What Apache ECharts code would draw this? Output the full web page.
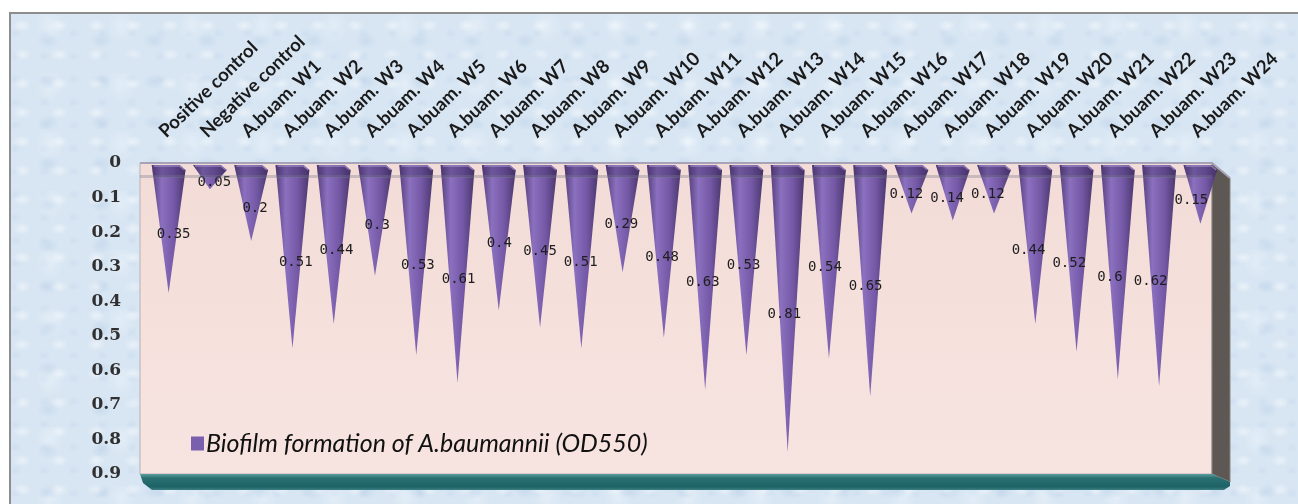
<!DOCTYPE html>
<html>
<head>
<meta charset="utf-8">
<script src="https://cdn.jsdelivr.net/npm/echarts@6/dist/echarts.min.js"></script>
<style>
  html, body { margin: 0; padding: 0; background: #fff; }
  #wrap { position: relative; width: 1298px; height: 504px; overflow: hidden; background: #fff; }
  #frame {
    position: absolute; left: 9px; top: 12px; width: 1300px; height: 500px;
    border: 2px solid #8d8d8d; box-sizing: border-box;
    background-color: #d8e6f3;
    background-image:
      radial-gradient(ellipse at 30% 40%, rgba(255,255,255,0.45) 0, rgba(255,255,255,0) 9px),
      radial-gradient(ellipse at 70% 65%, rgba(184,206,230,0.45) 0, rgba(184,206,230,0) 11px),
      radial-gradient(ellipse at 55% 20%, rgba(245,250,255,0.35) 0, rgba(245,250,255,0) 14px),
      radial-gradient(ellipse at 15% 85%, rgba(196,214,236,0.40) 0, rgba(196,214,236,0) 7px);
    background-size: 37px 29px, 53px 41px, 71px 59px, 29px 23px;
  }
  #chart { position: absolute; left: 0; top: 0; width: 1298px; height: 504px; }
</style>
</head>
<body>
<div id="wrap">
  <div id="frame"></div>
  <div id="chart"></div>
</div>
<script>
// Isolates tested for biofilm formation (crystal-violet OD550)
const categories = [
  'Positive control', 'Negative control',
  'A.buam. W1', 'A.buam. W2', 'A.buam. W3', 'A.buam. W4', 'A.buam. W5', 'A.buam. W6',
  'A.buam. W7', 'A.buam. W8', 'A.buam. W9', 'A.buam. W10', 'A.buam. W11', 'A.buam. W12',
  'A.buam. W13', 'A.buam. W14', 'A.buam. W15', 'A.buam. W16', 'A.buam. W17', 'A.buam. W18',
  'A.buam. W19', 'A.buam. W20', 'A.buam. W21', 'A.buam. W22', 'A.buam. W23', 'A.buam. W24'
];
const od550 = [
  0.35, 0.05,
  0.2, 0.51, 0.44, 0.3, 0.53, 0.61,
  0.4, 0.45, 0.51, 0.29, 0.48, 0.63,
  0.53, 0.81, 0.54, 0.65, 0.12, 0.14,
  0.12, 0.44, 0.52, 0.6, 0.62, 0.15
];
const yTicks = ['0', '0.1', '0.2', '0.3', '0.4', '0.5', '0.6', '0.7', '0.8', '0.9'];
const seriesName = 'Biofilm formation of A.baumannii (OD550)';

// plot box (the pink back wall of the 3-D chart)
const GRID = { left: 148, right: 77, top: 163, bottom: 30 };
const wall = { x0: 140, x1: 1212, y0: 163, y1: 474 };
const SIDE = 18;          // depth of the right-hand side wall
const FLOOR = 14;         // thickness of the floor slab
const CONE_DROP = 9;      // cones sit slightly in front of the wall

const coneFill = new echarts.graphic.LinearGradient(0, 0, 1, 0, [
  { offset: 0, color: '#563f7c' },
  { offset: 0.3, color: '#8b70bf' },
  { offset: 0.65, color: '#7559a7' },
  { offset: 1, color: '#4b376d' }
]);

function renderCone(params, api) {
  const i = api.value(0), v = api.value(1);
  const n = categories.length;
  const base = api.coord([i, 0]);
  const end = api.coord([i, v]);
  const mid = api.coord([i, v / 2]);
  const band = api.size([1, 0])[0];
  const half = band * 0.41;
  const cx = base[0];
  const yTop = base[1] + 2;
  const yTip = end[1] + CONE_DROP;
  const len = yTip - yTop;
  const capH = Math.min(12, len * 0.5);
  const k = 1 - capH / len;
  const bev = 6;
  const body = {
    type: 'polygon',
    shape: { points: [[cx - half, yTop], [cx + half - bev, yTop], [cx + half, yTop + 5], [cx, yTip]] },
    style: { fill: coneFill }
  };
  const cap = {
    type: 'polygon',
    shape: { points: [
      [cx - half, yTop], [cx + half - bev, yTop], [cx + half, yTop + 5],
      [cx + half * k, yTop + capH], [cx - half * k, yTop + capH]
    ] },
    style: { fill: 'rgba(58,40,92,0.35)' }
  };
  const rim = {
    type: 'polyline',
    shape: { points: [[cx - half + 2, yTop + 1], [cx + half - bev, yTop + 1], [cx + half - 1, yTop + 5]] },
    style: { stroke: 'rgba(170,150,210,0.7)', lineWidth: 1.5, fill: null }
  };
  // labels drift with the perspective of the 3-D view
  const drift = 5 - 14 * i / (n - 1);
  const label = {
    type: 'text',
    x: cx + drift,
    y: mid[1] + 11,
    z2: 20,
    style: {
      text: String(v),
      fill: '#1e1e1e',
      font: '14px "DejaVu Sans Mono"',
      align: 'center',
      verticalAlign: 'middle'
    }
  };
  return { type: 'group', children: [body, cap, rim, label] };
}

const chart = echarts.init(document.getElementById('chart'), null, { renderer: 'canvas' });

chart.setOption({
  backgroundColor: 'transparent',
  animation: false,
  grid: GRID,
  xAxis: {
    type: 'category',
    position: 'top',
    data: categories,
    axisLine: { show: false },
    axisTick: { show: false },
    axisLabel: {
      interval: 0,
      rotate: 44,
      margin: 22,
      verticalAlign: 'bottom',
      color: '#1a1a1a',
      fontFamily: 'Lato',
      fontWeight: 'bold',
      fontSize: 18.5
    }
  },
  yAxis: {
    type: 'value',
    inverse: true,
    min: 0,
    max: 0.9,
    interval: 0.1,
    axisLine: { show: false },
    axisTick: { show: false },
    splitLine: { show: false },
    axisLabel: {
      margin: 27,
      color: '#303030',
      fontFamily: 'DejaVu Serif',
      fontWeight: 'bold',
      fontSize: 17,
      formatter: (val, idx) => yTicks[idx]
    }
  },
  legend: {
    show: true,
    left: 186,
    top: 426,
    itemWidth: 13,
    itemHeight: 14,
    itemGap: 4,
    icon: 'rect',
    textStyle: { fontFamily: 'Lato', fontStyle: 'italic', fontSize: 25, color: '#111', padding: [0, 0, 0, -3] },
    data: [seriesName]
  },
  graphic: [
    // back wall
    {
      type: 'rect', z: -10,
      shape: { x: wall.x0, y: wall.y0, width: wall.x1 - wall.x0, height: wall.y1 - wall.y0 },
      style: {
        fill: new echarts.graphic.LinearGradient(0, 0, 0, 1, [
          { offset: 0, color: '#f3dcd8' }, { offset: 1, color: '#f7e4e0' }
        ]),
        stroke: '#b9b0b4', lineWidth: 1
      }
    },
    // right side wall
    {
      type: 'polygon', z: -9,
      shape: { points: [[wall.x1, wall.y0], [wall.x1 + SIDE, wall.y0 + 15], [wall.x1 + SIDE, wall.y1 + 8], [wall.x1, wall.y1]] },
      style: { fill: '#5e5855', stroke: '#8a8582', lineWidth: 1 }
    },
    // top edge of the wall
    {
      type: 'polyline', z: -8,
      shape: { points: [[wall.x0, wall.y0], [wall.x1, wall.y0], [wall.x1 + SIDE, wall.y0 + 15]] },
      style: { stroke: '#a6a2b8', lineWidth: 2, fill: null }
    },
    // floor slab
    {
      type: 'polygon', z: -8,
      shape: { points: [
        [wall.x0, wall.y1], [wall.x1, wall.y1], [wall.x1 + SIDE, wall.y1 + 8],
        [wall.x1 + SIDE, wall.y1 + FLOOR - 2], [wall.x1 + SIDE - 6, wall.y1 + FLOOR + 2],
        [wall.x0 + 12, wall.y1 + FLOOR + 2], [wall.x0 + 3, wall.y1 + 9]
      ] },
      style: {
        fill: new echarts.graphic.LinearGradient(0, 0, 0, 1, [
          { offset: 0, color: '#5e9fa0' }, { offset: 0.25, color: '#2a7073' },
          { offset: 0.8, color: '#1d6366' }, { offset: 1, color: '#3c7f82' }
        ])
      }
    },
    // front edge of the zero plane, seen through the cones
    {
      type: 'rect', z: 50,
      shape: { x: wall.x0, y: wall.y0 + 12, width: wall.x1 - wall.x0, height: 3 },
      style: { fill: 'rgba(120,120,140,0.35)' }
    }
  ],
  series: [{
    type: 'custom',
    name: seriesName,
    itemStyle: { color: '#7a5fae' },
    data: od550.map((v, i) => [i, v]),
    encode: { x: 0, y: 1 },
    renderItem: renderCone,
    clip: false
  }]
});
</script>
</body>
</html>
